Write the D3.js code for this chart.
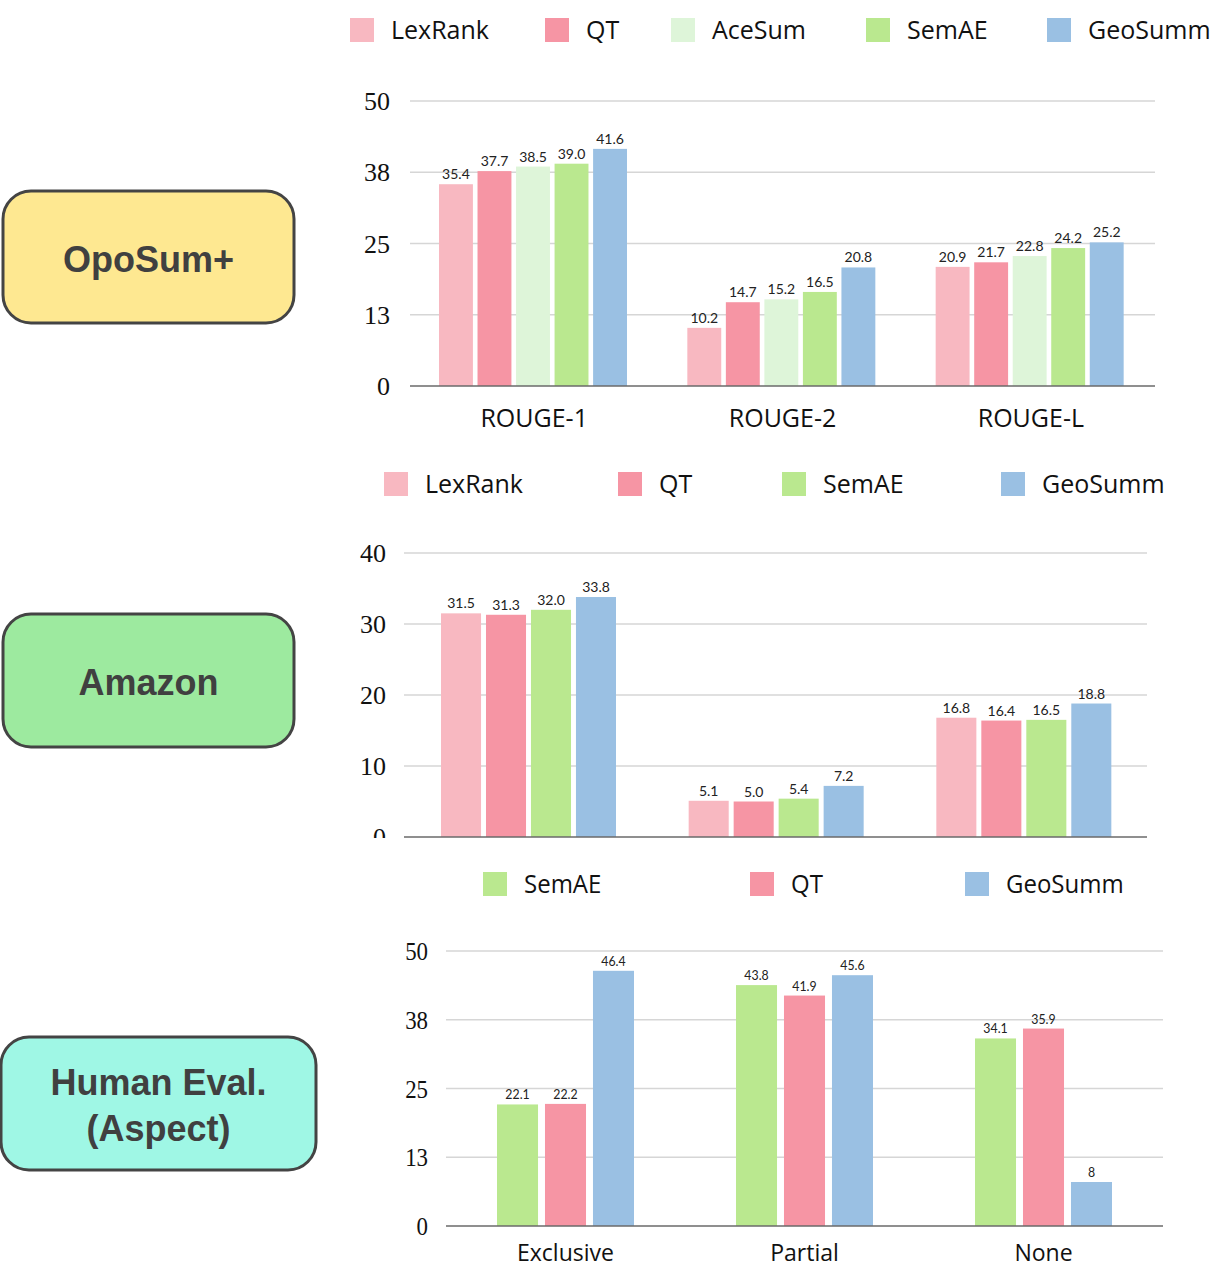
<!DOCTYPE html>
<html>
<head>
<meta charset="utf-8">
<script src="https://cdn.jsdelivr.net/npm/d3@7"></script>
<style>
  html, body { margin: 0; padding: 0; background: #fff; }
  svg { display: block; }
</style>
</head>
<body>
<svg id="chart" width="1224" height="1269"></svg>
<script>
// ---------- DATA ----------
const colors = { LexRank: "#f8b8c1", QT: "#f695a4", AceSum: "#def5d9", SemAE: "#bae88f", GeoSumm: "#9ac0e3" };

// Panel 1: OpoSum+
const oposumCategories = ["ROUGE-1", "ROUGE-2", "ROUGE-L"];
const oposumSeries = ["LexRank", "QT", "AceSum", "SemAE", "GeoSumm"];
const oposumLexRank = [35.4, 10.2, 20.9];
const oposumQT = [37.7, 14.7, 21.7];
const oposumAceSum = [38.5, 15.2, 22.8];
const oposumSemAE = [39.0, 16.5, 24.2];
const oposumGeoSumm = [41.6, 20.8, 25.2];
const oposumTicks = [0, 12.5, 25, 37.5, 50];
const oposumTickLabels = ["0", "13", "25", "38", "50"];

// Panel 2: Amazon
const amazonCategories = ["ROUGE-1", "ROUGE-2", "ROUGE-L"];
const amazonSeries = ["LexRank", "QT", "SemAE", "GeoSumm"];
const amazonLexRank = [31.5, 5.1, 16.8];
const amazonQT = [31.3, 5.0, 16.4];
const amazonSemAE = [32.0, 5.4, 16.5];
const amazonGeoSumm = [33.8, 7.2, 18.8];
const amazonTicks = [0, 10, 20, 30, 40];
const amazonTickLabels = ["0", "10", "20", "30", "40"];

// Panel 3: Human Eval. (Aspect)
const humanCategories = ["Exclusive", "Partial", "None"];
const humanSeries = ["SemAE", "QT", "GeoSumm"];
const humanSemAE = [22.1, 43.8, 34.1];
const humanQT = [22.2, 41.9, 35.9];
const humanGeoSumm = [46.4, 45.6, 8];
const humanValueLabels = {
  SemAE: ["22.1", "43.8", "34.1"],
  QT: ["22.2", "41.9", "35.9"],
  GeoSumm: ["46.4", "45.6", "8"]
};
const humanTicks = [0, 12.5, 25, 37.5, 50];
const humanTickLabels = ["0", "13", "25", "38", "50"];

// ---------- DRAW ----------
const svg = d3.select("#chart");
const valueFont = "Lato, 'Open Sans', sans-serif";
const labelFont = "'Open Sans', Lato, sans-serif";
const tickFont = "'Liberation Serif', 'DejaVu Serif', serif";

function drawPanel(cfg) {
  const g = svg.append("g");
  const y = d3.scaleLinear().domain(cfg.yDomain).range([cfg.y0, cfg.y1]);
  const x0 = d3.scaleBand().domain(cfg.categories).range([cfg.xl, cfg.xr]).padding(0);
  const bw = x0.bandwidth();
  const x1 = d3.scaleBand().domain(cfg.series).range([cfg.innerStart, cfg.innerEnd]).paddingInner(cfg.barPad).paddingOuter(0);
  const sx = cfg.scaleX || 1;
  const lsx = cfg.labelScaleX || 1;

  // gridlines
  g.append("g").selectAll("line").data(cfg.ticks.filter(t => t !== 0)).join("line")
    .attr("x1", cfg.xl).attr("x2", cfg.xr)
    .attr("y1", d => y(d)).attr("y2", d => y(d))
    .attr("stroke", "#d6d6d6").attr("stroke-width", 1.5);

  // tick labels
  let clipId = null;
  if (cfg.clipBottom) {
    clipId = "clip" + Math.round(cfg.y0);
    svg.append("defs").append("clipPath").attr("id", clipId)
      .append("rect").attr("x", 0).attr("y", 0).attr("width", 1224).attr("height", cfg.clipBottom);
  }
  const tg = g.append("g");
  if (clipId) tg.attr("clip-path", `url(#${clipId})`);
  tg.selectAll("text").data(cfg.ticks).join("text")
    .attr("transform", d => `translate(${cfg.tickX},${y(d) + 9}) scale(${sx},1)`)
    .attr("text-anchor", "end")
    .attr("font-family", tickFont).attr("font-size", 26).attr("fill", "#111")
    .text((d, i) => cfg.tickLabels[i]);

  // bars
  const rows = [];
  cfg.categories.forEach((c, ci) => {
    cfg.series.forEach(s => {
      rows.push({ c, s, v: cfg.values[s][ci], label: cfg.valueLabels ? cfg.valueLabels[s][ci] : d3.format(".1f")(cfg.values[s][ci]) });
    });
  });
  g.append("g").selectAll("rect").data(rows).join("rect")
    .attr("x", d => x0(d.c) + x1(d.s))
    .attr("y", d => y(d.v))
    .attr("width", x1.bandwidth())
    .attr("height", d => y(0) - y(d.v))
    .attr("fill", d => colors[d.s]);

  // value labels
  g.append("g").selectAll("text").data(rows).join("text")
    .attr("transform", d => `translate(${x0(d.c) + x1(d.s) + x1.bandwidth() / 2},${y(d.v) - 5}) scale(${sx},1)`)
    .attr("text-anchor", "middle")
    .attr("font-family", valueFont).attr("font-size", 14).attr("fill", "#222")
    .text(d => d.label);

  // baseline
  g.append("line").attr("x1", cfg.xl).attr("x2", cfg.xr)
    .attr("y1", y(0)).attr("y2", y(0))
    .attr("stroke", "#6a6a6a").attr("stroke-width", 1.5);

  // category labels
  if (cfg.showCategories) {
    g.append("g").selectAll("text").data(cfg.categories).join("text")
      .attr("transform", d => `translate(${x0(d) + bw / 2},${cfg.catY}) scale(${lsx},1)`)
      .attr("text-anchor", "middle")
      .attr("font-family", labelFont).attr("font-size", cfg.catSize || 25).attr("fill", "#111")
      .text(d => d);
  }

  // legend
  const lg = g.append("g");
  cfg.series.forEach((s, i) => {
    lg.append("rect").attr("x", cfg.legendX[i]).attr("y", cfg.legendY - 12)
      .attr("width", 24).attr("height", 24).attr("fill", colors[s]);
    lg.append("text")
      .attr("transform", `translate(${cfg.legendX[i] + 41},${cfg.legendY + 9}) scale(${lsx},1)`)
      .attr("font-family", labelFont).attr("font-size", 25).attr("fill", "#111")
      .text(s);
  });
}

drawPanel({
  categories: oposumCategories, series: oposumSeries,
  values: { LexRank: oposumLexRank, QT: oposumQT, AceSum: oposumAceSum, SemAE: oposumSemAE, GeoSumm: oposumGeoSumm },
  yDomain: [0, 50], y0: 386, y1: 101, xl: 410, xr: 1155,
  innerStart: 29, innerEnd: 217, barPad: 0.12,
  ticks: oposumTicks, tickLabels: oposumTickLabels, tickX: 390,
  showCategories: true, catY: 427,
  legendX: [350, 545, 671, 866, 1047], legendY: 30
});

drawPanel({
  categories: amazonCategories, series: amazonSeries,
  values: { LexRank: amazonLexRank, QT: amazonQT, SemAE: amazonSemAE, GeoSumm: amazonGeoSumm },
  yDomain: [0, 40], y0: 837, y1: 553, xl: 404, xr: 1147,
  innerStart: 37, innerEnd: 212, barPad: 0.11,
  ticks: amazonTicks, tickLabels: amazonTickLabels, tickX: 386,
  clipBottom: 838,
  showCategories: false,
  legendX: [384, 618, 782, 1001], legendY: 484
});

drawPanel({
  categories: humanCategories, series: humanSeries,
  values: { SemAE: humanSemAE, QT: humanQT, GeoSumm: humanGeoSumm },
  valueLabels: humanValueLabels,
  yDomain: [0, 50], y0: 1226, y1: 951, xl: 446, xr: 1163,
  innerStart: 51, innerEnd: 188, barPad: 0.145,
  ticks: humanTicks, tickLabels: humanTickLabels, tickX: 428,
  showCategories: true, catY: 1261, catSize: 24, scaleX: 0.88, labelScaleX: 0.96,
  legendX: [483, 750, 965], legendY: 884
});

// ---------- dataset boxes ----------
const boxes = [
  { x: 3, y: 191, w: 291, h: 132, fill: "#fee891", lines: ["OpoSum+"], cy: 259 },
  { x: 3, y: 614, w: 291, h: 133, fill: "#9dea9f", lines: ["Amazon"], cy: 682 },
  { x: 1, y: 1037, w: 315, h: 133, fill: "#9ff7e5", lines: ["Human Eval.", "(Aspect)"], cy: 1105 }
];
boxes.forEach(b => {
  svg.append("rect").attr("x", b.x).attr("y", b.y).attr("width", b.w).attr("height", b.h)
    .attr("rx", 28).attr("ry", 28)
    .attr("fill", b.fill).attr("stroke", "#444").attr("stroke-width", 3);
  const lh = 46;
  const startY = b.cy - (b.lines.length - 1) * lh / 2 + 13;
  b.lines.forEach((t, i) => {
    svg.append("text").attr("x", b.x + b.w / 2).attr("y", startY + i * lh)
      .attr("text-anchor", "middle")
      .attr("font-family", "'Liberation Sans', Arial, sans-serif")
      .attr("font-weight", "bold").attr("font-size", 36).attr("fill", "#404040")
      .text(t);
  });
});
</script>
</body>
</html>
